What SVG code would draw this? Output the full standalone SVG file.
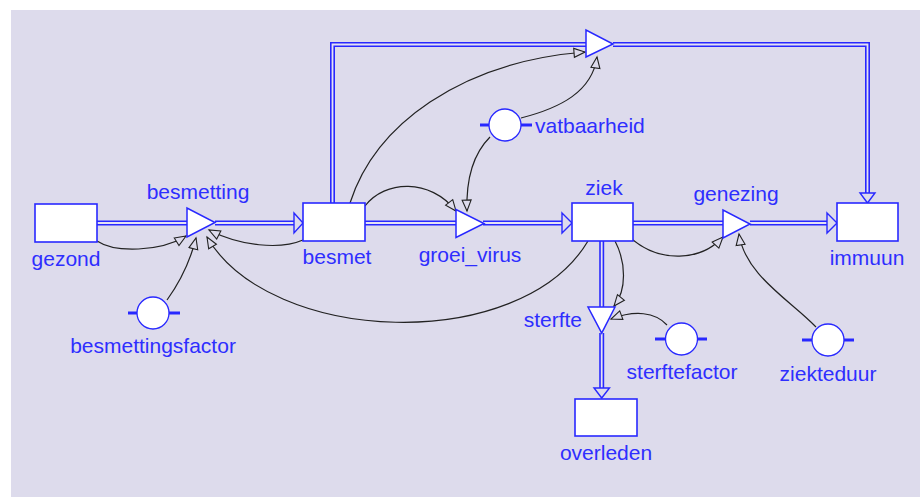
<svg xmlns="http://www.w3.org/2000/svg" width="920" height="497" viewBox="0 0 920 497">
<defs>
<style>
.bg{fill:#dddbec}
.pipe{fill:none;stroke:#2828ff;stroke-width:5;stroke-linejoin:miter}
.pipein{fill:none;stroke:#e4e2f2;stroke-width:1.8;stroke-linejoin:miter}
.stock{fill:#ffffff;stroke:#2828ff;stroke-width:1.6}
.valve{fill:#ffffff;stroke:#2828ff;stroke-width:1.5;stroke-linejoin:miter}
.aux{fill:#ffffff;stroke:#2828ff;stroke-width:1.3}
.tab{stroke:#2828ff;stroke-width:3}
.fhead{fill:#dddbec;stroke:#2828ff;stroke-width:1.4;stroke-linejoin:miter}
.link{fill:none;stroke:#222222;stroke-width:1.2;marker-end:url(#ah)}
text{font-family:"Liberation Sans",Arial,sans-serif;font-size:21px;fill:#2e2eff}
.m{text-anchor:middle}
.e{text-anchor:end}
</style>
<marker id="ah" markerUnits="userSpaceOnUse" markerWidth="14" markerHeight="12" refX="11" refY="4.5" orient="auto" viewBox="-1 -1 14 12">
<path d="M0,0 L11,4.5 L0,9 Z" fill="#dddbec" stroke="#222222" stroke-width="1.1"/>
</marker>
</defs>
<rect x="0" y="0" width="920" height="497" fill="#ffffff"/>
<rect class="bg" x="11" y="10" width="909" height="487"/>

<g id="connectors">
<g id="flows">
<path class="pipe" d="M97,223 H187"/><path class="pipein" d="M97,223 H187"/>
<path class="pipe" d="M215,223 H294"/><path class="pipein" d="M215,223 H294"/>
<polygon class="fhead" points="294,213 303,223 294,233"/>
<path class="pipe" d="M365,223 H456"/><path class="pipein" d="M365,223 H456"/>
<path class="pipe" d="M483,223 H562"/><path class="pipein" d="M483,223 H562"/>
<polygon class="fhead" points="562,213 572,223 562,233"/>
<path class="pipe" d="M633,223 H723"/><path class="pipein" d="M633,223 H723"/>
<path class="pipe" d="M750,223 H827"/><path class="pipein" d="M750,223 H827"/>
<polygon class="fhead" points="827,213 837,223 827,233"/>
<path class="pipe" d="M332.5,203 V44.5 H586"/><path class="pipein" d="M332.5,203 V44.5 H586"/>
<path class="pipe" d="M613,44.5 H867.5 V193"/><path class="pipein" d="M613,44.5 H867.5 V193"/>
<polygon class="fhead" points="860,193 875,193 867.5,203"/>
<path class="pipe" d="M601.7,241 V307"/><path class="pipein" d="M601.7,241 V307"/>
<path class="pipe" d="M601.7,333 V388"/><path class="pipein" d="M601.7,333 V388"/>
<polygon class="fhead" points="594,388 609.5,388 601.7,398"/>
</g>
<g id="links">
<path class="link" d="M97,241 C115,253 160,252 186,236"/>
<path class="link" d="M303,240 C280,250 240,246 209,230"/>
<path class="link" d="M167,300 C180,282 190,262 196,238"/>
<path class="link" d="M588,241 C520,355 270,345 207,237"/>
<path class="link" d="M350,203 C375,125 460,62 585,52"/>
<path class="link" d="M521,118 C560,108 592,92 597,57"/>
<path class="link" d="M365,206 C385,180 430,178 456,211"/>
<path class="link" d="M490,137 C472,155 466,180 467,211"/>
<path class="link" d="M633,240 C660,262 700,262 723,237"/>
<path class="link" d="M816,327 C790,300 745,275 739,234"/>
<path class="link" d="M615,241 C626,262 627,290 614,306"/>
<path class="link" d="M667,325 C655,312 635,310 611,319"/>
</g>
</g>

<g id="gezond"><rect class="stock" x="35" y="204" width="62" height="38"/><text class="m" x="66" y="266">gezond</text></g>
<g id="besmet"><rect class="stock" x="303" y="203" width="62" height="38"/><text class="m" x="337" y="264">besmet</text></g>
<g id="ziek"><rect class="stock" x="572" y="203" width="61" height="38"/><text class="m" x="604" y="195">ziek</text></g>
<g id="immuun"><rect class="stock" x="837" y="203" width="61" height="38"/><text class="m" x="867" y="265">immuun</text></g>
<g id="overleden"><rect class="stock" x="575" y="399" width="62" height="37"/><text class="m" x="606" y="460">overleden</text></g>

<g id="besmetting"><polygon class="valve" points="187,208 187,237 215,222.5"/><text class="m" x="198" y="199">besmetting</text></g>
<g id="groei_virus"><polygon class="valve" points="456,209.5 456,237.5 484,223.5"/><text class="m" x="470" y="262">groei_virus</text></g>
<g id="genezing"><polygon class="valve" points="723,210 723,238 750,224"/><text class="m" x="736" y="201">genezing</text></g>
<g id="top_valve"><polygon class="valve" points="586,30 586,57 613,44"/></g>
<g id="sterfte"><polygon class="valve" points="588,307 615,307 601.7,333"/><text class="e" x="582" y="327">sterfte</text></g>

<g id="besmettingsfactor"><line class="tab" x1="128" y1="313" x2="180" y2="313"/><circle class="aux" cx="153" cy="313" r="16"/><text class="m" x="153" y="353">besmettingsfactor</text></g>
<g id="vatbaarheid"><line class="tab" x1="480" y1="125" x2="532" y2="125"/><circle class="aux" cx="505" cy="125" r="16"/><text x="535" y="133">vatbaarheid</text></g>
<g id="sterftefactor"><line class="tab" x1="655" y1="339" x2="707" y2="339"/><circle class="aux" cx="681.5" cy="339" r="16"/><text class="m" x="682" y="379">sterftefactor</text></g>
<g id="ziekteduur"><line class="tab" x1="802" y1="340" x2="854" y2="340"/><circle class="aux" cx="828" cy="340" r="16"/><text class="m" x="828" y="381">ziekteduur</text></g>
</svg>
